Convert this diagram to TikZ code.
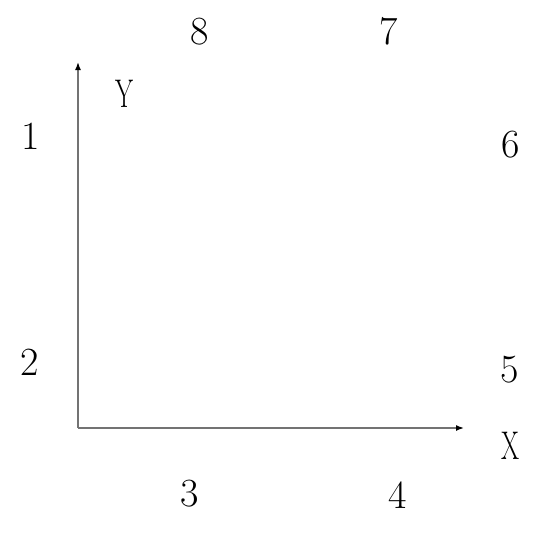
\documentclass[tikz,border=0pt]{standalone}
\usetikzlibrary{arrows.meta}
\begin{document}
\begin{tikzpicture}[x=1pt,y=-1pt,
  axis/.style={draw=black!55,line width=1.5pt,-{Latex[length=8pt,width=6pt,color=black]}},
  num/.style={font=\fontsize{40}{40}\selectfont,inner sep=0pt,anchor=center},
  axlabel/.style={font=\fontsize{40}{40}\selectfont,inner sep=0pt,anchor=center,xscale=0.65}]
\useasboundingbox (0,0) rectangle (542,533);
\coordinate (o) at (78,428);
\coordinate (ytip) at (78,62);
\coordinate (xtip) at (464,428);
\draw[axis] (o) -- (ytip);
\draw[axis] (o) -- (xtip);
\node[axlabel] (ylab) at (125,94) {Y};
\node[axlabel] (xlab) at (511,446) {X};
\node[num] (n1) at (31,136) {1};
\node[num] (n2) at (30,362) {2};
\node[num] (n3) at (190,494) {3};
\node[num] (n4) at (398,495) {4};
\node[num] (n5) at (510,370) {5};
\node[num] (n6) at (511,145) {6};
\node[num] (n7) at (389,31) {7};
\node[num] (n8) at (200,32) {8};
\end{tikzpicture}
\end{document}
